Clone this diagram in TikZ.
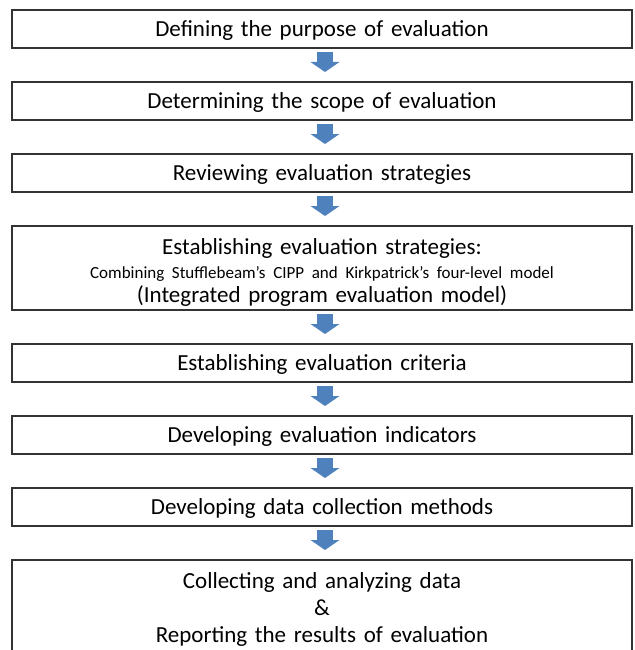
\documentclass[tikz,border=0pt]{standalone}
\usepackage{fontspec}
\setmainfont{Carlito}
\usetikzlibrary{positioning,arrows.meta}
\definecolor{pfeilblau}{RGB}{79,129,189}
\tikzset{
    %Define style for the step boxes
    stufe/.style={
           rectangle,
           draw=black!80, line width=1.5pt,
           fill=white,
           minimum width=620pt,
           minimum height=38pt,
           text width=600pt,
           text height=15pt,
           text depth=0pt,
           inner sep=0pt,
           outer sep=0pt,
           align=center,
           font=\fontsize{23}{24}\selectfont},
    % Define block arrow style
    pfeil/.style={
           draw=pfeilblau,
           line width=16pt,
           -{Triangle[width=29pt,length=10pt,line width=0pt]},
           shorten <=4pt,
           shorten >=10pt}
}

\begin{document}
\begin{tikzpicture}[x=1pt,y=1pt,node distance=34pt]
  \clip (0,0) rectangle (634,-650);
  \node[stufe, anchor=north west] (s1) at (12,-10) {Defining the purpose of evaluation};
  \node[stufe] (s2) [below=of s1] {Determining the scope of evaluation};
  \node[stufe] (s3) [below=of s2] {Reviewing evaluation strategies};
  \node[stufe, minimum height=84pt, text depth=43pt] (s4) [below=of s3]
    {Establishing evaluation strategies:\\
     {\fontsize{17}{24}\selectfont Combining Stufflebeam’s CIPP and Kirkpatrick’s four-level model}\\
     (Integrated program evaluation model)};
  \node[stufe] (s5) [below=of s4] {Establishing evaluation criteria};
  \node[stufe] (s6) [below=of s5] {Developing evaluation indicators};
  \node[stufe] (s7) [below=of s6] {Developing data collection methods};
  \node[stufe, minimum height=95pt, text depth=54pt, font=\fontsize{23}{27}\selectfont] (s8) [below=of s7]
    {Collecting and analyzing data\\ \&\\ Reporting the results of evaluation};
  % arrows between the steps
  \foreach \a/\b in {s1/s2,s2/s3,s3/s4,s4/s5,s5/s6,s6/s7,s7/s8}
    \draw[pfeil] ([xshift=3pt]\a.south) -- ([xshift=3pt]\b.north);
\end{tikzpicture}
\end{document}
